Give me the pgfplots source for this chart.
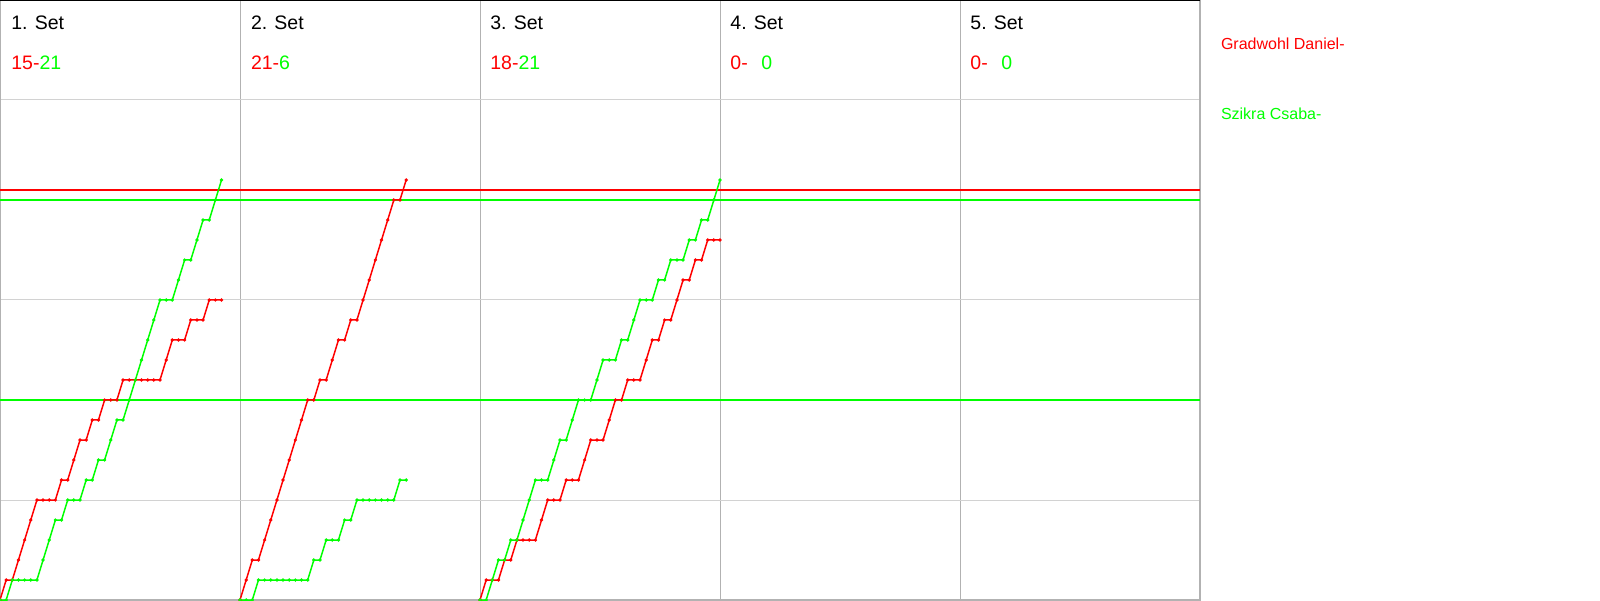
\documentclass[border=0pt]{standalone}
\usepackage{pgfplots}
\pgfplotsset{compat=1.18}
\usepackage{fontspec}
\setmainfont{Liberation Sans}
\definecolor{pr}{RGB}{255,0,0}
\definecolor{pg}{RGB}{0,255,0}
\begin{document}
\begin{tikzpicture}[x=1pt,y=1pt]
\useasboundingbox (0,0) rectangle (800,300);
\begin{axis}[
  at={(0,0)}, anchor=south west,
  width=600pt, height=300pt, scale only axis,
  xmin=0, xmax=195, ymin=0, ymax=30,
  xtick={39,78,117,156}, ytick={5,10,15,20,25},
  xticklabels={}, yticklabels={},
  major tick length=0pt,
  grid=major,
  x grid style={draw=gray!60, line width=0.5pt},
  y grid style={draw=gray!35, line width=0.5pt},
  axis line style={draw=gray!60, line width=0.6pt},
  clip=false,
  every axis plot/.append style={line width=0.75pt, mark size=0.4pt},
]
% reference lines
\addplot[pr, no markers, line width=0.65pt] coordinates {(0,20.5) (195,20.5)};
\addplot[pg, no markers, line width=0.65pt] coordinates {(0,20) (195,20)};
\addplot[pg, no markers, line width=0.65pt] coordinates {(0,10) (195,10)};
% Set 1
\addplot[pr, mark=*] coordinates {(0,0)(1,1)(2,1)(3,2)(4,3)(5,4)(6,5)(7,5)(8,5)(9,5)(10,6)(11,6)(12,7)(13,8)(14,8)(15,9)(16,9)(17,10)(18,10)(19,10)(20,11)(21,11)(22,11)(23,11)(24,11)(25,11)(26,11)(27,12)(28,13)(29,13)(30,13)(31,14)(32,14)(33,14)(34,15)(35,15)(36,15)};
\addplot[pg, mark=*] coordinates {(0,0)(1,0)(2,1)(3,1)(4,1)(5,1)(6,1)(7,2)(8,3)(9,4)(10,4)(11,5)(12,5)(13,5)(14,6)(15,6)(16,7)(17,7)(18,8)(19,9)(20,9)(21,10)(22,11)(23,12)(24,13)(25,14)(26,15)(27,15)(28,15)(29,16)(30,17)(31,17)(32,18)(33,19)(34,19)(35,20)(36,21)};
% Set 2
\addplot[pr, mark=*] coordinates {(39,0)(40,1)(41,2)(42,2)(43,3)(44,4)(45,5)(46,6)(47,7)(48,8)(49,9)(50,10)(51,10)(52,11)(53,11)(54,12)(55,13)(56,13)(57,14)(58,14)(59,15)(60,16)(61,17)(62,18)(63,19)(64,20)(65,20)(66,21)};
\addplot[pg, mark=*] coordinates {(39,0)(40,0)(41,0)(42,1)(43,1)(44,1)(45,1)(46,1)(47,1)(48,1)(49,1)(50,1)(51,2)(52,2)(53,3)(54,3)(55,3)(56,4)(57,4)(58,5)(59,5)(60,5)(61,5)(62,5)(63,5)(64,5)(65,6)(66,6)};
% Set 3
\addplot[pr, mark=*] coordinates {(78,0)(79,1)(80,1)(81,1)(82,2)(83,2)(84,3)(85,3)(86,3)(87,3)(88,4)(89,5)(90,5)(91,5)(92,6)(93,6)(94,6)(95,7)(96,8)(97,8)(98,8)(99,9)(100,10)(101,10)(102,11)(103,11)(104,11)(105,12)(106,13)(107,13)(108,14)(109,14)(110,15)(111,16)(112,16)(113,17)(114,17)(115,18)(116,18)(117,18)};
\addplot[pg, mark=*] coordinates {(78,0)(79,0)(80,1)(81,2)(82,2)(83,3)(84,3)(85,4)(86,5)(87,6)(88,6)(89,6)(90,7)(91,8)(92,8)(93,9)(94,10)(95,10)(96,10)(97,11)(98,12)(99,12)(100,12)(101,13)(102,13)(103,14)(104,15)(105,15)(106,15)(107,16)(108,16)(109,17)(110,17)(111,17)(112,18)(113,18)(114,19)(115,19)(116,20)(117,21)};
\draw[black, line width=1pt] (rel axis cs:0,1) -- (rel axis cs:1,1);
\end{axis}
\begin{scope}[every node/.style={anchor=base west, inner sep=0pt, font=\fontsize{9.75}{12}\selectfont}]
\node at (5.5,285) {1. Set};
\node at (125.3,285) {2. Set};
\node at (245,285) {3. Set};
\node at (365,285) {4. Set};
\node at (485,285) {5. Set};
\node at (5.5,265) {\textcolor{pr}{15-}\textcolor{pg}{21}};
\node at (125.3,265) {\textcolor{pr}{21-}\textcolor{pg}{6}};
\node at (245,265) {\textcolor{pr}{18-}\textcolor{pg}{21}};
\node at (365,265) {\textcolor{pr}{0-}};
\node at (380.5,265) {\textcolor{pg}{0}};
\node at (485,265) {\textcolor{pr}{0-}};
\node at (500.5,265) {\textcolor{pg}{0}};
\end{scope}
\begin{scope}[every node/.style={anchor=base west, inner sep=0pt, font=\fontsize{8}{10}\selectfont}]
\node[text=pr] at (610.3,275) {Gradwohl Daniel-};
\node[text=pg] at (610.3,240) {Szikra Csaba-};
\end{scope}
\end{tikzpicture}
\end{document}
